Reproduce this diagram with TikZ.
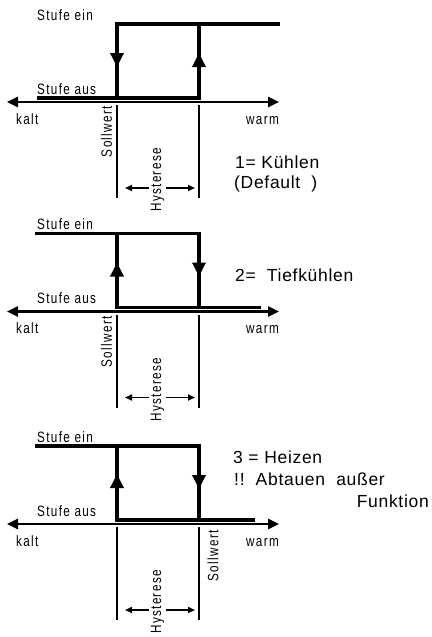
\documentclass[tikz,border=0pt]{standalone}
\usepackage{fontspec}
\setmainfont{Liberation Sans}
\newfontfamily\narrowfont[FakeStretch=0.78,LetterSpace=9]{Liberation Sans}
\newfontfamily\bigfont[LetterSpace=4]{Liberation Sans}
\usetikzlibrary{arrows.meta}
\tikzset{steplin/.style={line width=3.3pt},
         axislin/.style={line width=2.5pt, {Triangle[length=11pt,width=10pt]}-{Triangle[length=11pt,width=10pt]}},
         marklin/.style={line width=2.5pt},
         hystlin/.style={line width=1.7pt, {Triangle[length=7pt,width=6pt]}-{Triangle[length=7pt,width=6pt]}},
         steptip/.style={-{Triangle[length=14pt,width=13pt]}},
         small/.style={font=\fontsize{15}{17}\narrowfont, inner sep=0pt},
         big/.style={font=\fontsize{17.5}{20}\bigfont, inner sep=0pt, anchor=base west}}

\begin{document}
\begin{tikzpicture}[x=1pt,y=-1pt]
        \useasboundingbox (0,0) rectangle (431,637);
        %
        % axis, setpoint lines and labels, the same in all three panels
        \foreach \y/\n in {102/1,311.5/2,524/3}{
        \begin{scope}[shift={(0,\y)}]
            \coordinate (kl\n) at (7,0);
            \coordinate (wm\n) at (279,0);
            \coordinate (sa\n) at (117,3);
            \coordinate (sb\n) at (117,96);
            \coordinate (ha\n) at (199,3);
            \coordinate (hb\n) at (199,96);
            \coordinate (hl\n) at (125,86);
            \coordinate (hr\n) at (195,86);
            \draw[axislin] (kl\n) -- (wm\n);
            \draw[marklin] (sa\n) -- (sb\n);
            \draw[marklin] (ha\n) -- (hb\n);
            \draw[hystlin] (hl\n) -- (hr\n);
            \node[small, anchor=base west] (ein\n) at (37,-82) {Stufe ein};
            \node[small, anchor=base west] (aus\n) at (37,-8) {Stufe aus};
            \node[small, anchor=base west] (kalt\n) at (16,22) {kalt};
            \node[small, anchor=base east] (warm\n) at (279,22) {warm};
            \node[small, rotate=90, fill=white, inner ysep=2pt] (hys\n) at (157.5,78) {Hysterese};
        \end{scope}
        }
        %
        % 1 = Kuehlen
        \begin{scope}[shift={(0,102)}]
            \coordinate (p1a) at (37,-4);
            \coordinate (p1b) at (117,-4);
            \coordinate (p1c) at (117,-78);
            \coordinate (p1d) at (199,-4);
            \coordinate (p1e) at (199,-78);
            \coordinate (p1f) at (280,-78);
            \draw[steplin] (p1a) -- (p1d) -- (p1e);
            \draw[steplin] (p1b) -- (p1c) -- (p1f);
            \draw[steplin, steptip] (p1c) -- (117,-35);
            \draw[steplin, steptip] (p1d) -- (199,-49);
            \node[small, rotate=90] (soll1) at (106.5,29.5) {Sollwert};
            \node[big] (mode1) at (235,66) {1=\ Kühlen};
            \node[big] (dflt1) at (234,86) {(Default\ \ )};
        \end{scope}
        %
        % 2 = Tiefkuehlen
        \begin{scope}[shift={(0,311.5)}]
            \coordinate (p2a) at (35,-78);
            \coordinate (p2b) at (117,-78);
            \coordinate (p2c) at (117,-4);
            \coordinate (p2d) at (199,-78);
            \coordinate (p2e) at (199,-4);
            \coordinate (p2f) at (261,-4);
            \draw[steplin] (p2a) -- (p2d) -- (p2e);
            \draw[steplin] (p2b) -- (p2c) -- (p2f);
            \draw[steplin, steptip] (p2c) -- (117,-49);
            \draw[steplin, steptip] (p2d) -- (199,-35);
            \node[small, rotate=90] (soll2) at (106.5,30.5) {Sollwert};
            \node[big] (mode2) at (235,-30) {2=\ \ Tiefkühlen};
        \end{scope}
        %
        % 3 = Heizen
        \begin{scope}[shift={(0,524)}]
            \coordinate (p3a) at (35,-78);
            \coordinate (p3b) at (117,-78);
            \coordinate (p3c) at (117,-4);
            \coordinate (p3d) at (199,-78);
            \coordinate (p3e) at (199,-4);
            \coordinate (p3f) at (255,-4);
            \draw[steplin] (p3a) -- (p3d) -- (p3e);
            \draw[steplin] (p3b) -- (p3c) -- (p3f);
            \draw[steplin, steptip] (p3c) -- (117,-50);
            \draw[steplin, steptip] (p3d) -- (199,-35);
            \node[small, rotate=90] (soll3) at (213,32) {Sollwert};
            \node[big] (mode3) at (233,-61) {3 = Heizen};
            \node[big] (note3) at (234,-39) {!!\ \ Abtauen\ \ außer};
            \node[big, anchor=base east] (func3) at (429,-17) {Funktion};
        \end{scope}
    \end{tikzpicture}
\end{document}
